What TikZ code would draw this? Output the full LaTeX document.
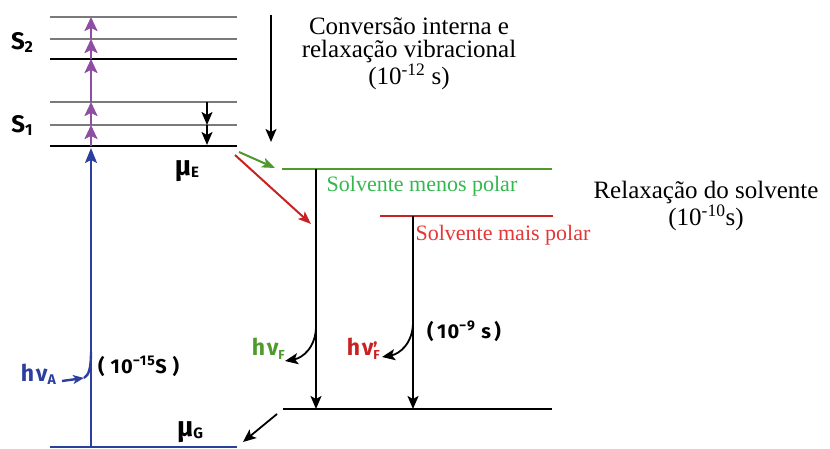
\documentclass[tikz,border=0pt]{standalone}
\usepackage{fontspec}
\setmainfont{Liberation Serif}
\newfontfamily\handfont{Fira Sans}
\usetikzlibrary{arrows.meta}
\definecolor{purp}{HTML}{8E4FA3}
\definecolor{bluA}{HTML}{2B3F9E}
\definecolor{grnA}{HTML}{4E9A2C}
\definecolor{grnT}{HTML}{33B84F}
\definecolor{redA}{HTML}{C82222}
\definecolor{redT}{HTML}{E53535}
\definecolor{levgray}{HTML}{7A7A7A}
\begin{document}
\begin{tikzpicture}[x=1pt,y=-1pt,
  thinlev/.style={draw=levgray,line width=1.8pt},
  thicklev/.style={draw=black,line width=2.6pt},
  purparrow/.style={draw=purp,line width=2.4pt,-{Stealth[length=14pt,width=13pt,inset=3pt]}},
  blkarrow/.style={draw=black,line width=1.8pt,-{Stealth[length=13pt,width=11pt,inset=3pt]}},
  hand/.style={font=\handfont\bfseries\fontsize{20}{21}\selectfont\addfontfeatures{LetterSpace=6},inner sep=0pt},
  handbig/.style={font=\handfont\bfseries\fontsize{23}{23}\selectfont\addfontfeatures{LetterSpace=8},inner sep=0pt},
  serif/.style={font=\fontsize{25}{23}\selectfont,align=center,inner sep=0pt},
  solv/.style={font=\fontsize{22}{22}\selectfont,inner sep=0pt}]
\useasboundingbox (0,0) rectangle (830,449);
% left levels
\coordinate (a1) at (50,17);  \coordinate (b1) at (237,17);
\coordinate (a2) at (50,39);  \coordinate (b2) at (237,39);
\coordinate (a3) at (50,59);  \coordinate (b3) at (237,59);
\coordinate (a4) at (50,102); \coordinate (b4) at (237,102);
\coordinate (a5) at (50,125); \coordinate (b5) at (237,125);
\coordinate (a6) at (50,146); \coordinate (b6) at (237,146);
\coordinate (a7) at (50,447); \coordinate (b7) at (237,447);
\draw[thinlev] (a1) -- (b1);
\draw[thinlev] (a2) -- (b2);
\draw[thicklev] (a3) -- (b3);
\draw[thinlev] (a4) -- (b4);
\draw[thinlev] (a5) -- (b5);
\draw[thicklev] (a6) -- (b6);
\draw[draw=bluA,line width=2pt] (a7) -- (b7);
% purple arrows
\coordinate (p0) at (91,146); \coordinate (p1) at (91,125);
\coordinate (p2) at (91,102); \coordinate (p3) at (91,59);
\coordinate (p4) at (91,39);  \coordinate (p5) at (91,17);
\draw[purparrow] (p0) -- (p1);
\draw[purparrow] (p1) -- (p2);
\draw[purparrow] (p2) -- (p3);
\draw[purparrow] (p3) -- (p4);
\draw[purparrow] (p4) -- (p5);
% small relaxation arrows
\coordinate (r0) at (207,102); \coordinate (r1) at (207,125); \coordinate (r2) at (207,145);
\draw[blkarrow] (r0) -- (r1);
\draw[blkarrow] (r1) -- (r2);
% blue absorption
\coordinate (ab0) at (91,447); \coordinate (ab1) at (91,148);
\draw[draw=bluA,line width=2.2pt,-{Stealth[length=15pt,width=12pt,inset=3pt]}] (ab0) -- (ab1);
\coordinate (ha1) at (62,381); \coordinate (ham) at (84,378); \coordinate (ha2) at (91,352);
\draw[draw=bluA,line width=2.4pt,-{Stealth[length=11pt,width=9pt,inset=3pt]}] (ha1) -- (ham);
\draw[draw=bluA,line width=2.4pt] (ham) .. controls (89,375) and (91,368) .. (ha2);
% big conversion arrow
\coordinate (ic0) at (271,15); \coordinate (ic1) at (271,142);
\draw[blkarrow] (ic0) -- (ic1);
% solvent levels
\coordinate (g0) at (282,169); \coordinate (g1) at (552,169);
\coordinate (rl0) at (380,216); \coordinate (rl1) at (553,216);
\coordinate (gr0) at (283,409); \coordinate (gr1) at (552,409);
\draw[draw=grnA,line width=2.2pt] (g0) -- (g1);
\draw[draw=redA,line width=2.2pt] (rl0) -- (rl1);
\draw[thicklev,line width=2.2pt] (gr0) -- (gr1);
% green and red relaxation arrows
\coordinate (ge0) at (239,152); \coordinate (ge1) at (275,168);
\coordinate (re0) at (235,155); \coordinate (re1) at (311,224);
\draw[draw=grnA,line width=2pt,-{Stealth[length=13pt,width=10pt,inset=3pt]}] (ge0) -- (ge1);
\draw[draw=redA,line width=2pt,-{Stealth[length=13pt,width=10pt,inset=3pt]}] (re0) -- (re1);
% emission verticals
\coordinate (v1t) at (316,169); \coordinate (v1b) at (316,409);
\coordinate (v2t) at (413,216); \coordinate (v2b) at (413,409);
\draw[blkarrow] (v1t) -- (v1b);
\draw[blkarrow] (v2t) -- (v2b);
\coordinate (f1a) at (316,326); \coordinate (f1b) at (285,361);
\coordinate (f2a) at (413,322); \coordinate (f2b) at (382,357);
\draw[blkarrow] (f1a) .. controls (316,348) and (302,358) .. (f1b);
\draw[blkarrow] (f2a) .. controls (413,344) and (399,354) .. (f2b);
% back to ground
\coordinate (d0) at (277,414); \coordinate (d1) at (243,442);
\draw[blkarrow] (d0) -- (d1);
% labels
\node[hand,font=\handfont\bfseries\fontsize{24}{24}\selectfont] (S2) at (22,42) {S\raisebox{-3pt}{\fontsize{16}{16}\selectfont 2}};
\node[hand,font=\handfont\bfseries\fontsize{24}{24}\selectfont] (S1) at (22,125) {S\raisebox{-3pt}{\fontsize{16}{16}\selectfont 1}};
\node[hand,font=\handfont\bfseries\fontsize{28}{28}\selectfont] (muE) at (187,171) {μ\raisebox{-2pt}{\fontsize{15}{15}\selectfont E}};
\node[hand,font=\handfont\bfseries\fontsize{28}{28}\selectfont] (muG) at (190,432) {μ\raisebox{-2pt}{\fontsize{15}{15}\selectfont G}};
\node[handbig,text=bluA,anchor=east] (hnA) at (56,374) {hν\raisebox{-3pt}{\fontsize{14}{14}\selectfont A}};
\node[hand,anchor=west] (t15) at (98,366) {(\ 10\textsuperscript{−15}S\ )};
\node[handbig,text=grnA,anchor=east] (hnF) at (285,349) {hν\raisebox{-4pt}{\fontsize{13}{13}\selectfont F}};
\node[handbig,text=redA,anchor=east] (hnF2) at (380,349) {hν\makebox[0pt][l]{\raisebox{11pt}{\fontsize{17}{17}\selectfont ,}}\raisebox{-4pt}{\fontsize{13}{13}\selectfont F}};
\node[hand,anchor=west] (t9) at (427,331) {(\,10\textsuperscript{−9} s\,)};
\node[serif] (conv) at (409,54) {Conversão interna e\\relaxação vibracional\\(10\textsuperscript{-12} s)};
\node[serif] (relax) at (706,206) {Relaxação do solvente\\(10\textsuperscript{-10}s)};
\node[solv,text=grnT] (smp) at (422,186) {Solvente menos polar};
\node[solv,text=redT] (smap) at (503,235) {Solvente mais polar};
\end{tikzpicture}
\end{document}
